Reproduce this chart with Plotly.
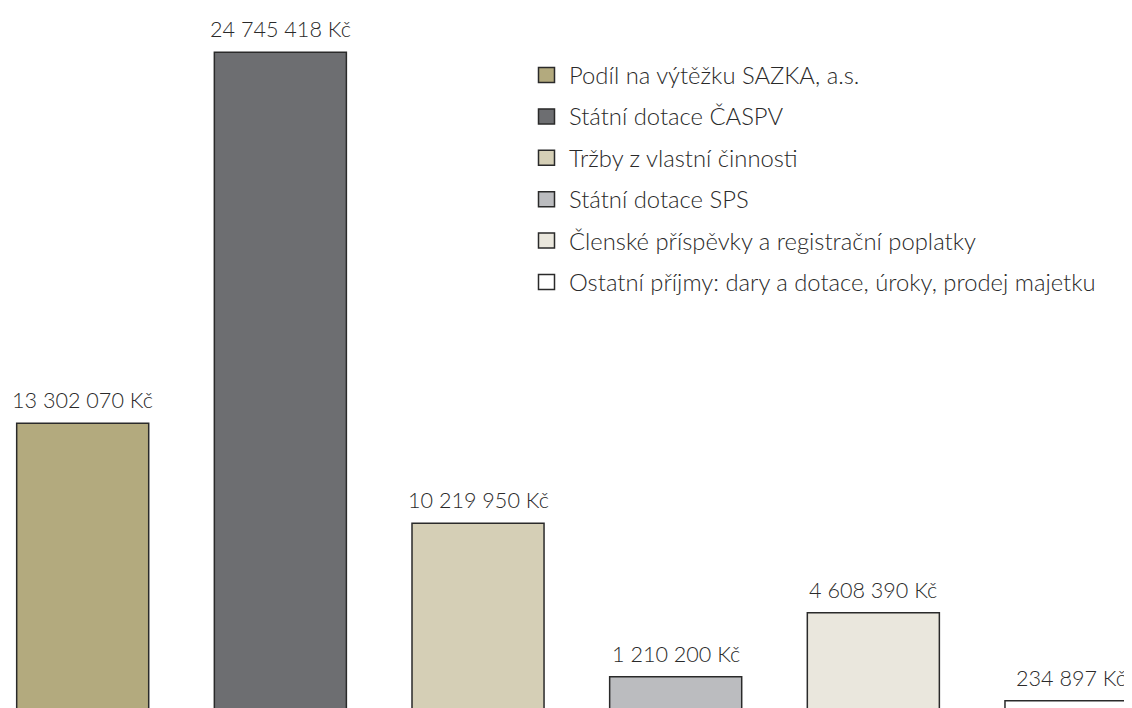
import plotly.graph_objects as go

# --- data -------------------------------------------------------------
categories = [
    "Podíl na výtěžku SAZKA, a.s.",
    "Státní dotace ČASPV",
    "Tržby z vlastní činnosti",
    "Státní dotace SPS",
    "Členské příspěvky a registrační poplatky",
    "Ostatní příjmy: dary a dotace, úroky, prodej majetku",
]
values_kc = [13302070, 24745418, 10219950, 1210200, 4608390, 234897]
value_labels = ["13 302 070 Kč", "24 745 418 Kč", "10 219 950 Kč",
                "1 210 200 Kč", "4 608 390 Kč", "234 897 Kč"]
# drawn bar heights (the original is not to scale
# for the three smaller items)
drawn_heights = [13302070, 24745418, 10219950, 5487000, 7461000, 4747000]
colors = ["#b3aa7e", "#6d6e71", "#d5cfb6", "#bbbcbf", "#eae7dd", "#ffffff"]

# --- layout constants -------------------------------------------------
# page body has an 8px margin, so the figure is 8px smaller and shifted
W, H = 1124, 700
FONT = "Lato"
TEXT_COLOR = "#2a2a2a"
LINE_COLOR = "#2a2a2a"
FS_LABEL = 21.6
FS_LEGEND = 23.8

x_pos = list(range(len(categories)))

fig = go.Figure()
fig.add_trace(go.Bar(
    x=x_pos, y=drawn_heights, width=0.668,
    marker=dict(color=colors, line=dict(color=LINE_COLOR, width=1.5)),
    showlegend=False, hoverinfo="skip",
))

for xi, yi, lab in zip(x_pos, drawn_heights, value_labels):
    fig.add_annotation(x=xi, y=yi, text=lab, showarrow=False,
                       xanchor="center", yanchor="bottom", yshift=8,
                       font=dict(family=FONT, size=FS_LABEL, color=TEXT_COLOR, weight=300))

# manual legend
lx0, lx1 = 530.5, 546.5
for i, (cat, col) in enumerate(zip(categories, colors)):
    cy = 67 + 41.4 * i
    fig.add_shape(type="rect", xref="paper", yref="paper",
                  x0=lx0 / W, x1=lx1 / W,
                  y0=1 - (cy + 7.5) / H, y1=1 - (cy - 7.5) / H,
                  fillcolor=col, line=dict(color=LINE_COLOR, width=1.5))
    fig.add_annotation(xref="paper", yref="paper", x=559 / W, y=1 - cy / H,
                       text=cat, showarrow=False, xanchor="left", yanchor="middle",
                       font=dict(family=FONT, size=FS_LEGEND, color=TEXT_COLOR, weight=300))

fig.update_layout(
    width=W, height=H,
    margin=dict(l=0, r=0, t=0, b=0),
    paper_bgcolor="white", plot_bgcolor="white",
    xaxis=dict(range=[-0.3779, 5.3086], visible=False, fixedrange=True),
    yaxis=dict(range=[4522000, 26113000], visible=False, fixedrange=True),
    showlegend=False,
)

fig.write_html("out.html")
